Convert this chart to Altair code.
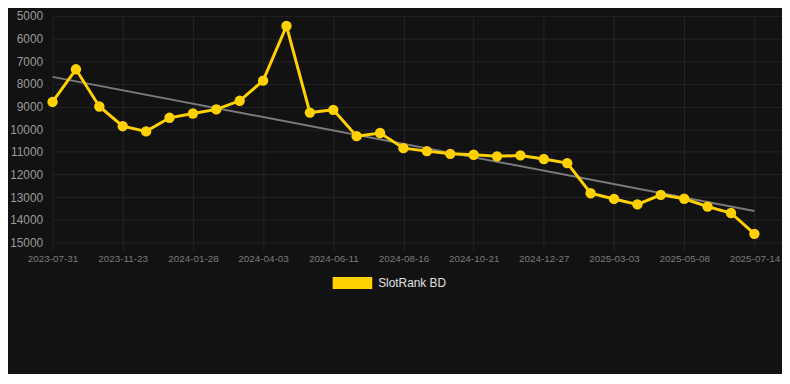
import altair as alt
import pandas as pd

dates = [
    "2023-07-31", "2023-09-07", "2023-10-15", "2023-11-23", "2023-12-15",
    "2024-01-06", "2024-01-28", "2024-02-19", "2024-03-12", "2024-04-03",
    "2024-04-26", "2024-05-19", "2024-06-11", "2024-07-03", "2024-07-25",
    "2024-08-16", "2024-09-07", "2024-09-29", "2024-10-21", "2024-11-12",
    "2024-12-05", "2024-12-27", "2025-01-18", "2025-02-09", "2025-03-03",
    "2025-03-25", "2025-04-16", "2025-05-08", "2025-05-30", "2025-06-22",
    "2025-07-14",
]
ranks = [
    8800, 7360, 9000, 9870, 10100, 9500, 9310, 9130, 8750, 7860,
    5450, 9270, 9150, 10310, 10170, 10840, 10970, 11090, 11130, 11200,
    11160, 11320, 11500, 12830, 13080, 13320, 12900, 13070, 13420, 13700,
    14620,
]
series_name = "SlotRank BD"
y_ticks = list(range(5000, 15001, 1000))
x_tick_idx = list(range(0, 31, 3))

df = pd.DataFrame({"i": list(range(len(dates))), "date": dates, "rank": ranks, "series": series_name})

label_expr = "[" + ",".join("'%s'" % d for d in dates) + "][round(datum.value)]"

BG = "#121212"
GRID = "#242424"
YELLOW = "#FFD100"

x_enc = alt.X(
    "i:Q",
    scale=alt.Scale(domain=[0, 31.18], nice=False, zero=False),
    axis=alt.Axis(
        values=x_tick_idx, labelExpr=label_expr, title=None, grid=True,
        gridColor=GRID, tickColor=GRID, tickSize=8, domain=False,
        labelColor="#7a7a7a", labelFontSize=10, labelPadding=3,
        labelFont="Liberation Sans", labelFlush=False, labelOverlap=False,
    ),
)
y_enc = alt.Y(
    "rank:Q",
    scale=alt.Scale(domain=[5000, 15000], reverse=True, nice=False, zero=False),
    axis=alt.Axis(
        values=y_ticks, format="d", title=None, grid=True, gridColor=GRID,
        ticks=False, domain=False, labelColor="#9a9a9a", labelFontSize=12,
        labelPadding=10, labelFont="Liberation Sans",
    ),
)

base = alt.Chart(df)

trend = base.transform_regression("i", "rank").mark_line(
    color="#7a7a7a", strokeWidth=2
).encode(x=x_enc, y=y_enc)

line = base.mark_line(color=YELLOW, strokeWidth=3).encode(x=x_enc, y=y_enc)

points = base.mark_point(filled=True, size=110, opacity=1).encode(
    x=x_enc,
    y=y_enc,
    color=alt.Color(
        "series:N",
        scale=alt.Scale(domain=[series_name], range=[YELLOW]),
        legend=alt.Legend(
            title=None, orient="none", legendX=283, legendY=250,
            symbolType="M-1,-0.3H1V0.3H-1Z", symbolSize=1600,
            symbolStrokeWidth=0, symbolOpacity=1,
            labelColor="#e0e0e0", labelFontSize=12, labelOffset=6,
            labelFont="Liberation Sans",
        ),
    ),
)

chart = (
    alt.layer(trend, line, points)
    .properties(
        width=737, height=229,
        padding={"left": 45, "top": 6, "right": 0, "bottom": 131},
        autosize=alt.AutoSizeParams(type="none"),
        background=BG,
    )
    .configure_view(stroke=None)
)

chart.save("out.html", embed_options={"renderer": "svg", "actions": False})
